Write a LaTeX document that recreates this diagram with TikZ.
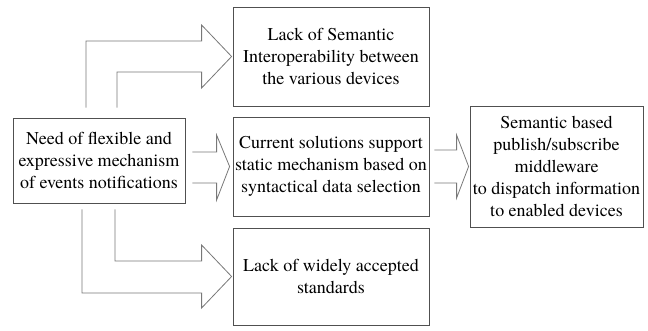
\documentclass[tikz,border=0pt]{standalone}
\usepackage{fontspec}
\setmainfont{TeX Gyre Termes}
\usetikzlibrary{calc}
\definecolor{boxline}{HTML}{505050}
\definecolor{arrline}{HTML}{787878}
\begin{document}
\begin{tikzpicture}[x=1pt,y=-1pt,
  txtbox/.style={draw=boxline, line width=0.8pt, inner sep=0pt, align=center,
    font=\fontsize{18}{21.8}\selectfont},
  blockarrow/.style={draw=arrline, line width=0.8pt}]
\useasboundingbox (0,0) rectangle (648,330);

% boxes
\node[txtbox, minimum width=172pt, minimum height=85pt] (need) at (99,160.5)
  {Need of flexible and\\expressive mechanism\\of events notifications};
\node[txtbox, minimum width=196pt, minimum height=99pt] (lack) at (331,56.5)
  {Lack of Semantic\\Interoperability between\\the various devices};
\node[txtbox, minimum width=196pt, minimum height=99pt] (cur) at (331,166.5)
  {Current solutions support\\static mechanism based on\\syntactical data selection};
\node[txtbox, minimum width=196pt, minimum height=97pt] (std) at (331,276.5)
  {Lack of widely accepted\\standards};
\node[txtbox, minimum width=173pt, minimum height=121pt] (pub) at (556.5,166.5)
  {Semantic based\\publish/subscribe\\middleware\\to dispatch information\\to enabled devices};

% bent block arrow up to the top box
\draw[blockarrow] ($(need.north)+(-13,-10)$) |- ($(lack.west)+(-31,-15.5)$)
  -- ++(0,-16) -- ($(lack.west)+(-1,0)$) -- ($(lack.west)+(-31,31.5)$)
  -- ++(0,-16) -| ($(need.north)+(18,-10)$);

% bent block arrow down to the bottom box
\draw[blockarrow] ($(need.south)+(-17,6)$) |- ($(std.west)+(-31,16.5)$)
  -- ++(0,15) -- ($(std.west)+(-1,0)$) -- ($(std.west)+(-31,-31.5)$)
  -- ++(0,16) -| ($(need.south)+(16,6)$);

% straight block arrow to the middle box
\draw[blockarrow] ($(cur.west -| need.east)+(7,-14.5)$) -- ($(cur.west)+(-16,-14.5)$)
  -- ++(0,-17) -- ($(cur.west)+(-3,0)$) -- ($(cur.west)+(-16,33.5)$)
  -- ++(0,-17) -- ($(cur.west -| need.east)+(7,16.5)$);

% straight block arrow to the right box
\draw[blockarrow] ($(cur.east)+(5,-16.5)$) -- ($(pub.west)+(-13,-16.5)$)
  -- ++(0,-15) -- ($(pub.west)+(-1,0)$) -- ($(pub.west)+(-13,31.5)$)
  -- ++(0,-15) -- ($(cur.east)+(5,16.5)$);
\end{tikzpicture}
\end{document}
